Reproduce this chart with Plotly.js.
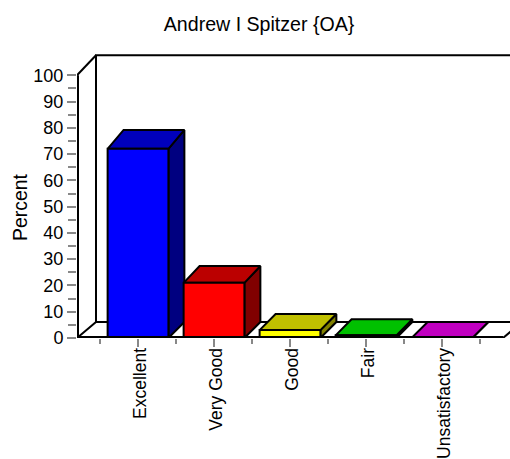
<!DOCTYPE html>
<html><head><meta charset="utf-8">
<script src="https://cdn.plot.ly/plotly-3.0.1.min.js"></script>
<style>html,body{margin:0;padding:0;background:#fff;overflow:hidden}#c{width:510px;height:459px}</style>
</head><body><div id="c"></div>
<script>
const categories = ["Excellent","Very Good","Good","Fair","Unsatisfactory"];
const percents = [72,21,3,1,0];
const frontColors = ["#0000ff","#ff0000","#ffff00","#00ff00","#ff00ff"];
const topColors = ["#0000bb","#bb0000","#c0c000","#00c000","#c000c0"];
const sideColors = ["#000080","#800000","#808000","#008000","#800080"];
const yTicks = [0,10,20,30,40,50,60,70,80,90,100];

const xs = categories.map((_, i) => i);
const barW = 0.8, depthX = 0.21, wallX = 0.25;
const depthY = v => 6.1 + 0.015 * v;
const xLeft = -0.803, xFloorEnd = 4.803, xEnd = xFloorEnd + wallX;
const yMax = 110;

const traces = [];
const xB = xLeft + wallX, yFloor = depthY(0), yTop = 100 + depthY(100);
traces.push({type:"scatter",mode:"lines",hoverinfo:"skip",cliponaxis:false,showlegend:false,
  line:{color:"#000",width:2},
  x:[xLeft,xB,xEnd,null,xB,xB,xEnd,null,xLeft,xB,null,xFloorEnd,xEnd],
  y:[0,yFloor,yFloor,null,yFloor,yTop,yTop,null,100,yTop,null,0,yFloor]});
percents.forEach((v,i)=>{
  const l=xs[i]-barW/2, r=xs[i]+barW/2, d=depthY(v), d0=depthY(0);
  traces.push({type:"scatter",mode:"lines",fill:"toself",fillcolor:sideColors[i],hoverinfo:"skip",
    cliponaxis:false,showlegend:false,line:{color:"#000",width:2},
    x:[r,r+depthX,r+depthX,r,r],y:[0,d0,v+d,v,0]});
  traces.push({type:"scatter",mode:"lines",fill:"toself",fillcolor:topColors[i],hoverinfo:"skip",
    cliponaxis:false,showlegend:false,line:{color:"#000",width:2},
    x:[l,l+depthX,r+depthX,r,l],y:[v,v+d,v+d,v,v]});
});
traces.push({type:"bar",x:xs,y:percents,width:barW,xaxis:"x2",yaxis:"y2",showlegend:false,hoverinfo:"skip",
  marker:{color:frontColors,line:{color:"#000",width:2}}});
traces.push({type:"scatter",mode:"lines",xaxis:"x2",yaxis:"y2",cliponaxis:false,hoverinfo:"skip",showlegend:false,
  line:{color:"#000",width:4},x:[xLeft,xLeft,null,xLeft,xFloorEnd],y:[100,0,null,0,0]});

const font = {family:'"Liberation Sans", Arial, sans-serif',color:"#000"};
Plotly.newPlot("c",traces,{
  width:510,height:459,paper_bgcolor:"#fff",plot_bgcolor:"rgba(0,0,0,0)",showlegend:false,hovermode:false,
  margin:{l:77,r:0,t:49,b:121},
  title:{text:"Andrew I Spitzer {OA}",x:0.508,xanchor:"center",y:0.947,yanchor:"middle",font:{...font,size:19.6}},
  annotations:[{text:"Percent",xref:"paper",yref:"paper",x:-0.132,y:0.453,xanchor:"center",yanchor:"middle",
    textangle:-90,showarrow:false,font:{...font,size:19.4}}],
  xaxis:{range:[xLeft,4.895],tickmode:"array",tickvals:xs,ticktext:categories,tickangle:-90,
    ticks:"outside",ticklen:8,tickwidth:2,tickcolor:"#888",showgrid:false,zeroline:false,showline:false,
    tickfont:{...font,size:17.5},ticklabelstandoff:-6,ticklabelshift:2,
    minor:{tickmode:"array",tickvals:[-0.5,0.5,1.5,2.5,3.5,4.5],ticks:"outside",ticklen:5,tickwidth:2,tickcolor:"#888",showgrid:false}},
  yaxis:{range:[0,yMax],tickmode:"array",tickvals:yTicks,ticks:"outside",ticklen:9,tickwidth:2,tickcolor:"#888",
    showgrid:false,zeroline:false,showline:false,tickfont:{...font,size:18},
    minor:{tickmode:"array",tickvals:[5,15,25,35,45,55,65,75,85,95],ticks:"outside",ticklen:8,tickwidth:2,tickcolor:"#888",showgrid:false}},
  xaxis2:{range:[xLeft,4.895],overlaying:"x",visible:false},
  yaxis2:{range:[0,yMax],overlaying:"y",visible:false},
  bargap:0
},{displayModeBar:false,staticPlot:true});
</script></body></html>
